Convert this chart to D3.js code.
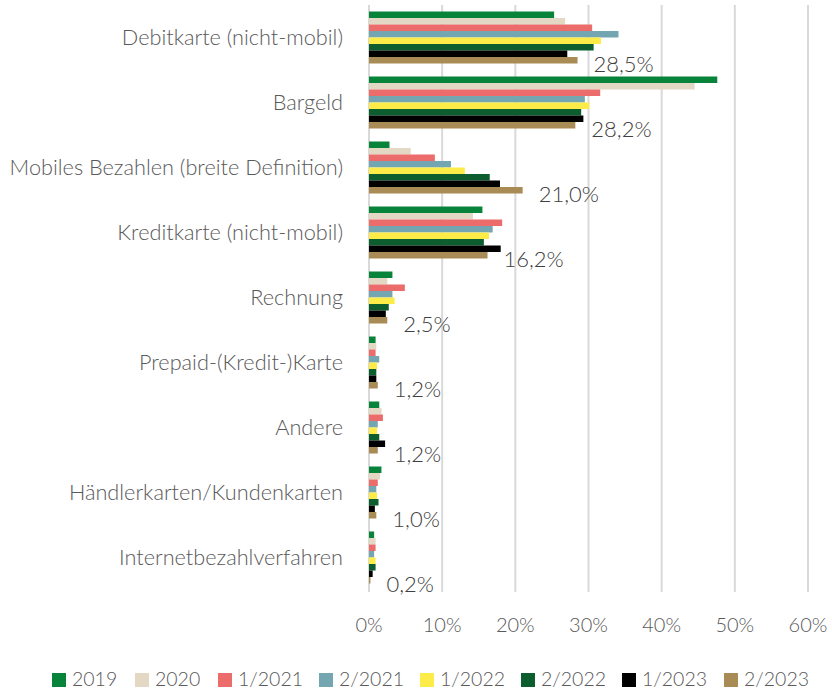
<!DOCTYPE html>
<html>
<head>
<meta charset="utf-8">
<script src="https://cdn.jsdelivr.net/npm/d3@7"></script>
<style>
  body { margin: 0; background: #fff; }
  svg text { font-family: Lato, "Open Sans", sans-serif; font-weight: 300; }
</style>
</head>
<body>
<svg width="832" height="691"></svg>
<script>
const categories = [
  "Debitkarte (nicht-mobil)",
  "Bargeld",
  "Mobiles Bezahlen (breite Definition)",
  "Kreditkarte (nicht-mobil)",
  "Rechnung",
  "Prepaid-(Kredit-)Karte",
  "Andere",
  "Händlerkarten/Kundenkarten",
  "Internetbezahlverfahren"
];
const periods = ["2019", "2020", "1/2021", "2/2021", "1/2022", "2/2022", "1/2023", "2/2023"];
const colors = ["#07843a", "#e2d8c4", "#ec6b6b", "#74a6b2", "#fdec47", "#0c5e2e", "#000000", "#a98b56"];

// one array per category, values in the order of periods (percent)
const debitkarte = [25.3, 26.8, 30.5, 34.1, 31.7, 30.7, 27.1, 28.5];
const bargeld = [47.6, 44.5, 31.6, 29.5, 30.1, 29.0, 29.3, 28.2];
const mobil = [2.8, 5.7, 9.0, 11.2, 13.1, 16.5, 17.9, 21.0];
const kreditkarte = [15.5, 14.2, 18.2, 16.9, 16.4, 15.7, 18.0, 16.2];
const rechnung = [3.2, 2.5, 4.9, 3.2, 3.5, 2.7, 2.3, 2.5];
const prepaid = [0.9, 1.0, 0.9, 1.4, 1.1, 1.0, 1.0, 1.2];
const andere = [1.4, 1.7, 1.9, 1.2, 1.1, 1.4, 2.2, 1.2];
const haendler = [1.7, 1.5, 1.2, 1.0, 1.1, 1.3, 0.8, 1.0];
const internet = [0.7, 0.9, 0.9, 0.7, 0.9, 0.9, 0.5, 0.2];
const xTicks = [0, 10, 20, 30, 40, 50, 60];

const values = [debitkarte, bargeld, mobil, kreditkarte, rechnung, prepaid, andere, haendler, internet];
const data = categories.map((c, i) => ({ category: c, values: values[i] }));

const svg = d3.select("svg");
const margin = { top: 5, left: 369 };

const g = svg.append("g")
  .attr("transform", `translate(${margin.left},${margin.top})`);

const x = d3.scaleLinear().domain([0, 60]).range([0, 439]);

const y = d3.scaleBand()
  .domain(categories)
  .range([0, 585])
  .paddingInner(0.2)
  .paddingOuter(0.1);

const ySub = d3.scaleBand()
  .domain(periods)
  .range([0, y.bandwidth()]);

// gridlines
g.selectAll("line.grid")
  .data(xTicks)
  .enter()
  .append("line")
  .attr("class", "grid")
  .attr("x1", d => x(d))
  .attr("x2", d => x(d))
  .attr("y1", 0)
  .attr("y2", 587)
  .attr("stroke", "#d9d9d9")
  .attr("stroke-width", 2);

// bars
const groups = g.selectAll("g.cat")
  .data(data)
  .enter()
  .append("g")
  .attr("class", "cat")
  .attr("transform", d => `translate(0,${y(d.category)})`);

groups.selectAll("rect")
  .data(d => d.values.map((v, i) => ({ period: periods[i], value: v, color: colors[i] })))
  .enter()
  .append("rect")
  .attr("x", 0)
  .attr("y", d => ySub(d.period))
  .attr("width", d => x(d.value))
  .attr("height", ySub.bandwidth())
  .attr("fill", d => d.color);

// value label for latest period
groups.append("text")
  .attr("x", d => x(d.values[7]) + 16)
  .attr("y", y.bandwidth() + 8)
  .attr("fill", "#404040")
  .style("font-size", "22px")
  .text(d => d.values[7].toFixed(1).replace(".", ",") + "%");

// category labels
g.selectAll("text.cat-label")
  .data(categories)
  .enter()
  .append("text")
  .attr("class", "cat-label")
  .attr("x", -26)
  .attr("y", d => y(d) + y.bandwidth() / 2)
  .attr("dy", "0.35em")
  .attr("text-anchor", "end")
  .attr("fill", "#595959")
  .style("font-size", "21.7px")
  .text(d => d);

// x tick labels
g.selectAll("text.tick-label")
  .data(xTicks)
  .enter()
  .append("text")
  .attr("class", "tick-label")
  .attr("x", d => x(d))
  .attr("y", 620)
  .attr("dy", "0.35em")
  .attr("text-anchor", "middle")
  .attr("fill", "#595959")
  .style("font-size", "20px")
  .text(d => d + "%");

// legend
const legendX = [52, 135, 218, 319, 420, 521, 622, 724];
const legend = svg.append("g");
periods.forEach((p, i) => {
  legend.append("rect")
    .attr("x", legendX[i])
    .attr("y", 673)
    .attr("width", 14)
    .attr("height", 14)
    .attr("fill", colors[i]);
  legend.append("text")
    .attr("x", legendX[i] + 20)
    .attr("y", 679)
    .attr("dy", "0.35em")
    .attr("fill", "#595959")
    .style("font-size", "19.5px")
    .text(p);
});
</script>
</body>
</html>
